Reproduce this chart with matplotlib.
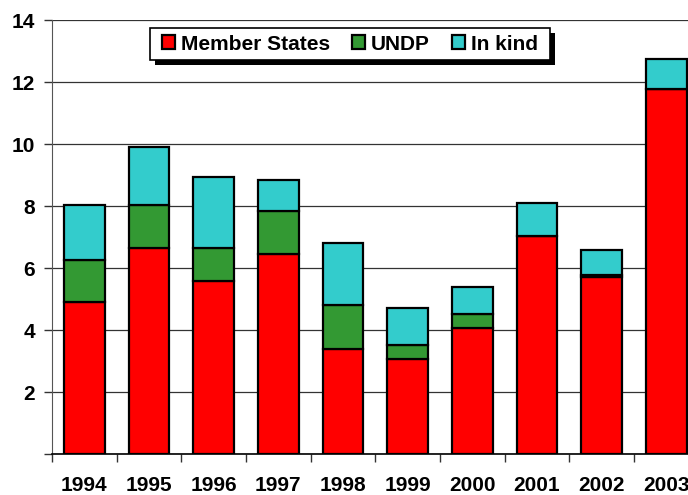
import matplotlib
matplotlib.use("Agg")
import matplotlib.pyplot as plt
from matplotlib.patches import Rectangle
from matplotlib.ticker import FixedLocator, NullFormatter
import numpy as np

years = ["1994", "1995", "1996", "1997", "1998", "1999", "2000", "2001", "2002", "2003"]
member_states = [4.89, 6.65, 5.59, 6.45, 3.39, 3.05, 4.05, 7.04, 5.70, 11.76]
undp = [1.38, 1.38, 1.04, 1.39, 1.41, 0.48, 0.48, 0.0, 0.07, 0.0]
in_kind = [1.76, 1.88, 2.32, 1.00, 2.00, 1.19, 0.85, 1.07, 0.81, 0.97]
series_names = ["Member States", "UNDP", "In kind"]
colors = ["#FF0000", "#339933", "#33CCCC"]
y_ticks = [0, 2, 4, 6, 8, 10, 12, 14]
y_labels = ["", "2", "4", "6", "8", "10", "12", "14"]

plt.rcParams['font.family'] = ['Liberation Sans', 'DejaVu Sans']
plt.rcParams['font.weight'] = 'bold'
FS = 15

fig = plt.figure(figsize=(6.88, 4.95), dpi=100)
ax = fig.add_axes([52/688, 1-454/495, (698.7-52)/688, (454-20)/495])

x = np.arange(len(years))
w = 0.63
bottom = np.zeros(len(years))
handles = []
for vals, col, name in zip([member_states, undp, in_kind], colors, series_names):
    v = np.array(vals)
    b = ax.bar(x, v, w, bottom=bottom, color=col, edgecolor='black', linewidth=1.6,
               label=name, zorder=3)
    handles.append(b)
    bottom = bottom + v

ax.set_xlim(-0.5, len(years) - 0.5)
ax.set_ylim(0, 14)
ax.set_yticks(y_ticks)
ax.set_yticklabels(y_labels, fontsize=FS, fontweight='bold')
ax.yaxis.grid(True, color='#333333', linewidth=0.9, zorder=0)
ax.set_axisbelow(True)

ax.xaxis.set_major_locator(FixedLocator(np.arange(-0.5, len(years) + 0.5, 1)))
ax.xaxis.set_major_formatter(NullFormatter())
ax.xaxis.set_minor_locator(FixedLocator(x))
ax.set_xticklabels(years, minor=True, fontsize=FS, fontweight='bold')
ax.tick_params(axis='x', which='major', direction='out', length=6, width=1, color='#333333')
ax.tick_params(axis='x', which='minor', length=0, pad=16)
ax.tick_params(axis='y', direction='out', length=6, width=1, color='#333333', pad=6)

for s in ['top', 'right']:
    ax.spines[s].set_visible(False)
ax.spines['left'].set_color('#555555')
ax.spines['bottom'].set_color('black')
ax.spines['bottom'].set_linewidth(1.2)

leg = ax.legend(handles=handles, labels=series_names, ncol=3, loc='center',
                bbox_to_anchor=(350/688, 1-44/495), bbox_transform=fig.transFigure,
                prop={'weight': 'bold', 'size': FS},
                handlelength=0.62, handleheight=0.62, handletextpad=0.3,
                columnspacing=1.05, borderpad=0.3, borderaxespad=0,
                frameon=False)
leg.set_zorder(6)

fig.canvas.draw()
bb = leg.get_window_extent()
padx = 6
frame = Rectangle((bb.x0 - padx, bb.y0), bb.width + 2 * padx, bb.height, transform=None,
                  facecolor='white', edgecolor='black', linewidth=1.2, zorder=5.7,
                  clip_on=False)
shadow = Rectangle((bb.x0 - padx + 5, bb.y0 - 5), bb.width + 2 * padx, bb.height,
                   transform=None, facecolor='black', edgecolor='none', zorder=5.5,
                   clip_on=False)
ax.add_artist(shadow)
ax.add_artist(frame)

fig.savefig("out.png", dpi=100)
